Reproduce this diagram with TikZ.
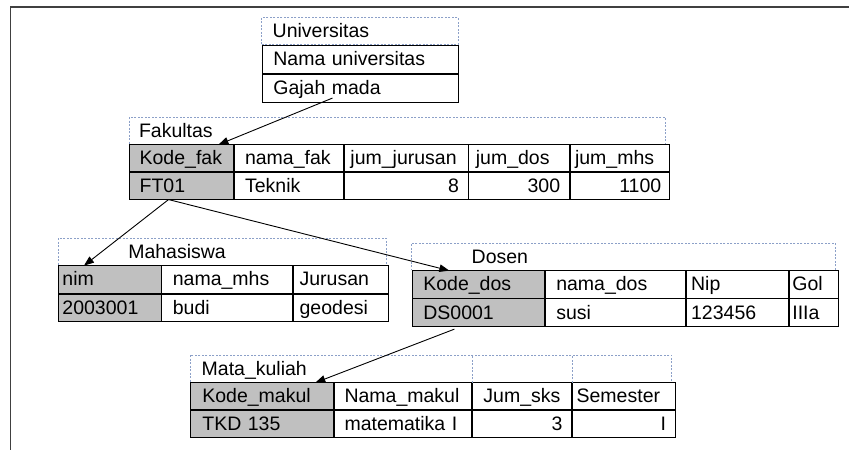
\documentclass[tikz,border=0pt]{standalone}
\usepackage{fontspec}
\setmainfont{Liberation Sans}
\usetikzlibrary{matrix,arrows.meta,positioning}

\definecolor{garis}{RGB}{140,160,200}
\definecolor{abu}{RGB}{192,192,192}

\tikzset{
  sel/.style={draw, line width=0.9pt, outer sep=0pt, inner ysep=0pt, anchor=center,
    minimum height=27pt, text height=15pt, text depth=2pt, align=left},
  kolom/.style 2 args={text width=#1, inner xsep=#2},
  kunci/.style={fill=abu},
  putus/.style={draw=garis, line width=0.8pt, dash pattern=on 2pt off 1.5pt},
  judul/.style={putus, outer sep=0pt, inner ysep=0pt, minimum height=27pt,
    text height=15pt, text depth=2pt, align=left, anchor=north west},
  tabel/.style={matrix of nodes, column sep=0pt, row sep=0pt, inner sep=0pt,
    anchor=north west, nodes={sel}},
  panah/.style={-{Triangle[length=10pt,width=7.5pt]}, line width=0.9pt},
  bingkai/.style={draw=black!75, line width=1.6pt},
}

\begin{document}
\begin{tikzpicture}[x=1pt,y=-1pt,font=\fontsize{19.5}{22}\selectfont]
  \useasboundingbox (0,0) rectangle (849,450);
  % bingkai
  \draw[bingkai] (849,7) -- (10.5,7) -- (10.5,450);

  % Universitas
  \node[judul, kolom={174.3pt}{11pt}] (uni-judul) at (261.7,17.5) {Universitas};
  \matrix (uni) [tabel, nodes={minimum height=28pt, kolom={174.3pt}{11pt}}]
    at (uni-judul.south west) {
    Nama universitas \\
    Gajah mada \\
  };

  % Fakultas
  \node[judul, kolom={516pt}{10pt}] (fak-judul) at (129,117) {Fakultas};
  \matrix (fak) [tabel,
    column 1/.style={nodes={kunci, kolom={83.8pt}{10pt}}},
    column 2/.style={nodes={kolom={87.8pt}{10.7pt}}},
    column 3/.style={nodes={kolom={111.5pt}{6pt}}},
    column 4/.style={nodes={kolom={86.3pt}{7pt}}},
    column 5/.style={nodes={kolom={89.2pt}{5pt}}}] at (fak-judul.south west) {
    Kode\_fak & nama\_fak & jum\_jurusan & jum\_dos & jum\_mhs \\
    FT01 & Teknik & |[align=right, kolom={105.5pt}{9pt}]| 8
      & |[align=right, kolom={82.3pt}{9pt}]| 300
      & |[align=right, kolom={83.2pt}{8pt}]| 1100 \\
  };

  % Mahasiswa
  \node[judul, kolom={187.7pt}{70pt}] (mhs-judul) at (58.3,238) {Mahasiswa};
  \matrix (mhs) [tabel, nodes={minimum height=27.5pt},
    column 1/.style={nodes={kunci, kolom={95pt}{3.5pt}}},
    column 2/.style={nodes={kolom={108.4pt}{11pt}}},
    column 3/.style={nodes={kolom={82.2pt}{6.5pt}}}] at (mhs-judul.south west) {
    nim & nama\_mhs & Jurusan \\
    2003001 & budi & geodesi \\
  };

  % Dosen
  \node[judul, kolom={303.3pt}{60pt}] (dos-judul) at (411.7,243) {Dosen};
  \matrix (dos) [tabel, nodes={minimum height=27.3pt},
    column 1/.style={nodes={kunci, kolom={110pt}{11pt}}},
    column 2/.style={nodes={kolom={118pt}{11pt}}},
    column 3/.style={nodes={kolom={92pt}{5pt}}},
    column 4/.style={nodes={kolom={42.7pt}{3.3pt}}}] at (dos-judul.south west) {
    Kode\_dos & nama\_dos & Nip & Gol \\
    DS0001 & susi & 123456 & IIIa \\
  };

  % Mata kuliah
  \node[judul, kolom={458.3pt}{11.7pt}] (mk-judul) at (190,355) {Mata\_kuliah};
  \matrix (mk) [tabel,
    column 1/.style={nodes={kunci, kolom={119.3pt}{11.7pt}}},
    column 2/.style={nodes={kolom={116.7pt}{10.3pt}}},
    column 3/.style={nodes={kolom={77.3pt}{11pt}}},
    column 4/.style={nodes={kolom={94.4pt}{4pt}}}] at (mk-judul.south west) {
    Kode\_makul & Nama\_makul & Jum\_sks & Semester \\
    TKD 135 & matematika I & |[align=right, kolom={80.7pt}{9.3pt}]| 3
      & |[align=right, kolom={84.4pt}{9pt}]| I \\
  };
  \draw[putus] (mk-1-3.north west) -- (mk-1-3.north west |- mk-judul.north);
  \draw[putus] (mk-1-4.north west) -- (mk-1-4.north west |- mk-judul.north);

  % relasi
  \draw[panah] ([xshift=-28pt,yshift=4pt]uni-2-1.south) -- ([xshift=-15pt]fak-1-1.north east);
  \draw[panah] ([xshift=-13pt]fak-2-1.south) -- ([xshift=-26pt]mhs-1-1.north);
  \draw[panah] ([xshift=-13pt]fak-2-1.south) -- ([xshift=-29pt]dos-1-1.north);
  \draw[panah] ([xshift=-24pt,yshift=-3pt]dos-2-1.south) -- ([xshift=-18pt]mk-1-1.north east);
\end{tikzpicture}
\end{document}
